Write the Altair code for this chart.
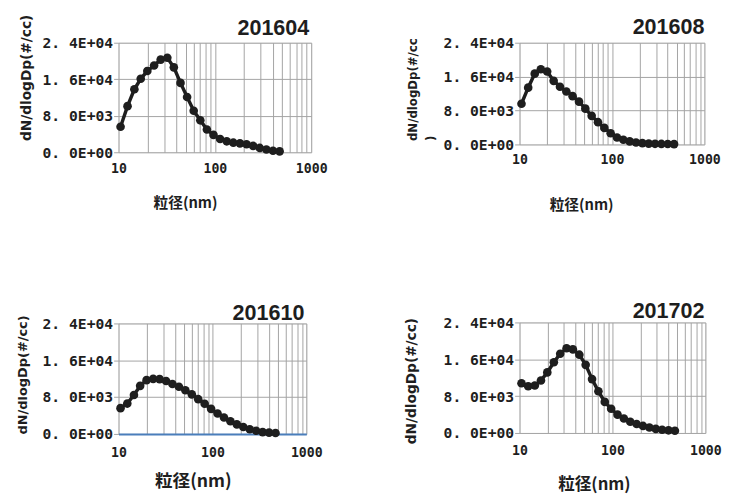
import altair as alt
import pandas as pd

# particle diameter bins (nm)
dp_nm = [10.5, 12.4, 14.6, 17.0, 19.9, 23.4, 27.4, 32.1, 37.5, 44.0, 51.5, 60.3,
         70.6, 82.7, 96.8, 113.4, 132.8, 155.5, 182.1, 213.3, 249.8, 292.5,
         342.6, 401.2, 470.0]

panel_names = ["201604", "201608", "201610", "201702"]

n_201604 = [5600, 10100, 13800, 16100, 17800, 19000, 20300, 20700, 18600, 15200,
            12100, 9100, 7000, 5000, 3800, 2900, 2400, 2100, 1950, 1750, 1400,
            950, 600, 330, 200]
n_201608 = [9600, 13400, 16700, 17750, 17200, 15000, 13600, 12500, 11400, 10100,
            8450, 6750, 5250, 3900, 2650, 1650, 1100, 720, 450, 300, 200, 150,
            120, 100, 80]
n_201610 = [5600, 6600, 8450, 10450, 11680, 11970, 11900, 11500, 10850, 10250,
            9500, 8600, 7550, 6550, 5450, 4450, 3580, 2750, 2070, 1520, 1030, 690,
            400, 280, 200]
n_201702 = [10800, 10150, 10300, 11400, 13150, 15350, 17200, 18400, 18150, 17000,
            14800, 11700, 9050, 6750, 5250, 3980, 3150, 2450, 1950, 1530, 1180,
            890, 700, 580, 490]

x_grid_values = [10, 20, 30, 40, 50, 60, 70, 80, 90, 100, 200, 300, 400, 500,
                 600, 700, 800, 900, 1000]
y_tick_values = [0, 8000, 16000, 24000]
x_title = "粒径(nm)"
y_title = "dN/dlogDp(#/cc)"

GRID = "#a3a3a3"
INK = "#1e1e1e"
BLUE = "#4a7ebb"
MONO = "DejaVu Sans Mono"

X_LABELS = ("datum.value == 10 ? '10' : datum.value == 100 ? '100' : "
            "datum.value == 1000 ? '1000' : ''")
Y_LABELS = ("datum.value == 0 ? '0. 0E+00' : datum.value == 8000 ? '8. 0E+03' : "
            "datum.value == 16000 ? '1. 6E+04' : '2. 4E+04'")


def panel(name, values, w, h, xlab_pad, xt, yt, title_xy, blue_base=False):
    df = pd.DataFrame({"dp": dp_nm, "dn": values})
    x_enc = alt.X(
        "dp:Q",
        scale=alt.Scale(type="log", domain=[10, 1000]),
        axis=alt.Axis(
            values=x_grid_values, labelExpr=X_LABELS, ticks=False,
            grid=True, gridColor=GRID, gridWidth=1,
            domain=blue_base, domainColor=BLUE, domainWidth=2,
            labelFont=MONO, labelFontWeight="bold", labelFontSize=13.5,
            labelColor=INK, labelPadding=xlab_pad, labelFlush=False,
            labelOverlap=False,
            title=x_title, titleFont="Noto Sans CJK JP", titleFontWeight="bold",
            titleFontSize=xt[3], titleColor=INK, titleX=xt[0], titleY=xt[1],
            titleAlign="center", titleBaseline="middle", titleAngle=0,
        ),
    )
    y_enc = alt.Y(
        "dn:Q",
        scale=alt.Scale(domain=[0, 24000]),
        axis=alt.Axis(
            values=y_tick_values, labelExpr=Y_LABELS, grid=True, gridColor=GRID,
            gridWidth=1, domain=False, ticks=True, tickColor=GRID, tickSize=5,
            labelPadding=1, labelFont=MONO, labelFontWeight="bold",
            labelFontSize=15, labelColor=INK,
            title=yt[2], titleFont="DejaVu Sans", titleFontWeight="bold",
            titleFontSize=yt[3], titleColor=INK, titleAngle=270,
            titleAlign="left", titleBaseline="top", titleX=yt[0], titleY=yt[1],
            titleLineHeight=18,
        ),
    )
    base = alt.Chart(df)
    line = base.mark_line(color=INK, strokeWidth=3.5).encode(x=x_enc, y=y_enc)
    pts = base.mark_point(filled=True, size=78, opacity=1, color=INK).encode(
        x=x_enc, y=y_enc)
    lab = alt.Chart(pd.DataFrame({"name": [name]})).mark_text(
        align="right", baseline="alphabetic", font="Liberation Sans",
        fontWeight="bold", fontSize=22, color=INK,
    ).encode(x=alt.value(title_xy[0]), y=alt.value(title_xy[1]), text="name:N")
    return alt.layer(line, pts, lab).properties(width=w, height=h)


p1 = panel(panel_names[0], n_201604, 197, 112, 10,
           (68, 51, None, 15), (-101, 100, y_title, 14), (195, -8))
p2 = panel(panel_names[1], n_201608, 189, 104, 9,
           (63, 62, None, 15), (-114, 100, ["dN/dlogDp(#/cc", ")"], 12), (189, -9))
p3 = panel(panel_names[2], n_201610, 192, 113, 12,
           (76, 49, None, 18), (-104, 113, y_title, 13.2), (190, -4), blue_base=True)
p4 = panel(panel_names[3], n_201702, 190, 113, 11,
           (76, 53, None, 17), (-117, 124, y_title, 14), (189, -5))

col1 = alt.vconcat(p1, p3, spacing=175, bounds="flush")
col2 = alt.vconcat(p2, p4, spacing=182, bounds="flush")
chart = alt.hconcat(col1, col2, spacing=410, bounds="flush").properties(
    padding={"left": 7, "top": 0, "right": 0, "bottom": 0}
).configure_view(stroke=GRID, strokeWidth=1).configure(background="white")

chart.save("out.html", embed_options={"renderer": "svg", "actions": False})
